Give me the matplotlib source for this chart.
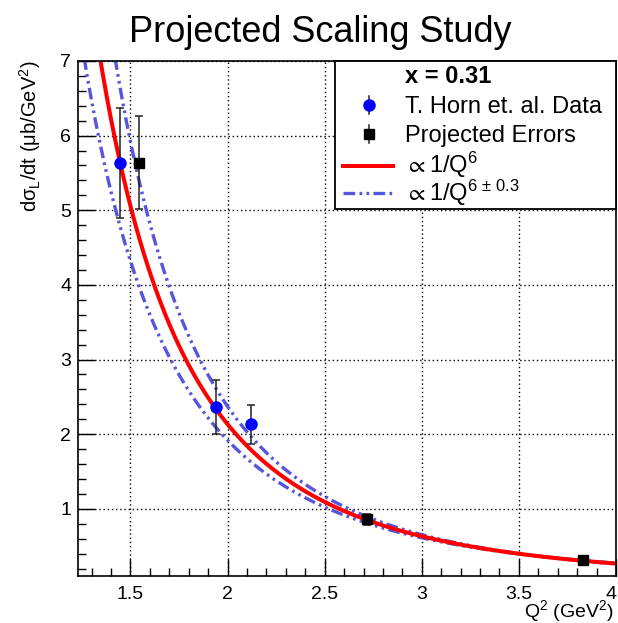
import numpy as np
import matplotlib
matplotlib.use("Agg")
import matplotlib.pyplot as plt
from matplotlib.lines import Line2D
from matplotlib.patches import Rectangle
from matplotlib.ticker import MultipleLocator, FormatStrFormatter

plt.rcParams['font.family'] = ['Liberation Sans', 'DejaVu Sans']
plt.rcParams['mathtext.fontset'] = 'custom'
plt.rcParams['mathtext.rm'] = 'Liberation Sans'
plt.rcParams['mathtext.it'] = 'Liberation Sans:italic'
plt.rcParams['mathtext.bf'] = 'Liberation Sans:bold'
plt.rcParams['mathtext.fallback'] = 'stixsans'

# data
horn_q2 = [1.445, 1.941, 2.12]
horn_y = [5.63, 2.36, 2.13]
horn_err = [0.74, 0.36, 0.26]

proj_q2 = [1.544, 2.718, 3.83]
proj_y = [5.64, 0.86, 0.315]
proj_err = [0.62, 0.07, 0.02]

xticks = [1.5, 2.0, 2.5, 3.0, 3.5, 4.0]

norm = 17.07      # dsigma/dt * (Q^2)^3
pivot = 3.6       # Q^2 where the +-0.3 curves meet
dexp = 0.18

q2 = np.linspace(1.2, 4.05, 400)
central = norm / q2**3
upper = norm / pivot**3 * (q2 / pivot)**(-(3 + dexp))
lower = norm / pivot**3 * (q2 / pivot)**(-(3 - dexp))

W, H = 618, 623
fig = plt.figure(figsize=(W / 100, H / 100), dpi=100)
ax = fig.add_axes([78 / W, 1 - 576 / H, (616 - 78) / W, (576 - 61) / H])


def fx(x):
    return x / W


def fy(y):
    return 1 - y / H


blue = '#5555dd'
dash = (0, (3.5, 1.3, 0.8, 1.3, 0.8, 1.3))
ax.plot(q2, upper, color=blue, lw=2.4, linestyle=dash)
ax.plot(q2, lower, color=blue, lw=2.4, linestyle=dash)
ax.plot(q2, central, color='red', lw=2.9)

ax.errorbar(horn_q2, horn_y, yerr=horn_err, fmt='o', color='blue', ms=8,
            ecolor='#222222', elinewidth=1.1, capsize=3, capthick=1.1, zorder=5)
ax.errorbar(proj_q2, proj_y, yerr=proj_err, fmt='s', color='black', ms=7.5,
            ecolor='#222222', elinewidth=1.1, capsize=3, capthick=1.1, zorder=5)

ax.set_xlim(1.23, 4.0)
ax.set_ylim(0.1, 7.0)
ax.set_xticks(xticks, ['%g' % t for t in xticks])
ax.xaxis.set_minor_locator(MultipleLocator(0.1))
ax.yaxis.set_major_locator(MultipleLocator(1))
ax.yaxis.set_minor_locator(MultipleLocator(0.2))
ax.yaxis.set_major_formatter(FormatStrFormatter('%g'))
ax.tick_params(which='both', direction='in', top=False, right=False,
               labelsize=14, width=1.0)
ax.tick_params(axis='x', which='major', length=12, pad=7)
ax.tick_params(axis='y', which='major', length=12, pad=5)
ax.tick_params(which='minor', length=6)
ax.grid(which='major', linestyle=(0, (1, 2)), color='black', lw=1.0)
for s in ax.spines.values():
    s.set_linewidth(1.2)
ax.get_xticklabels()[-1].set_ha('right')

ax.set_xlabel('Q$^{2}$ (GeV$^{2}$)', fontsize=14, ha='right', va='baseline')
ax.xaxis.set_label_coords(0.997, -(617 - 576) / 515)
ax.set_ylabel('dσ$_{\\rm L}$/dt (μb/GeV$^{2}$)', loc='top', fontsize=14.5,
              labelpad=12)

fig.text(fx(320), fy(42), 'Projected Scaling Study', fontsize=26,
         ha='center', va='baseline')

# legend box drawn by hand to match the row spacing
fig.patches.append(Rectangle((fx(335), fy(209)), fx(616) - fx(335),
                             fy(61) - fy(209), transform=fig.transFigure,
                             facecolor='white', edgecolor='black', lw=1.3,
                             zorder=10))
leg_fs = 17
rows = [
    ('x = 0.31', None, 83),
    ('T. Horn et. al. Data', 'horn', 113),
    ('Projected Errors', 'proj', 142),
    ('$\\propto$1/Q$^{6}$', 'central', 173),
    ('$\\propto$1/Q$^{6\\,\\pm\\,0.3}$', 'band', 201),
]
for label, kind, base in rows:
    weight = 'bold' if kind is None else 'normal'
    fig.text(fx(405), fy(base), label, fontsize=leg_fs, fontweight=weight,
             ha='left', va='baseline', zorder=11)
    yc = base - 8
    if kind == 'horn':
        fig.lines.append(Line2D([fx(369), fx(369)], [fy(yc - 9), fy(yc + 9)],
                                transform=fig.transFigure, color='#222222',
                                lw=1.1, zorder=11))
        fig.lines.append(Line2D([fx(369)], [fy(yc)], transform=fig.transFigure,
                                color='blue', marker='o', ms=8, zorder=12))
    elif kind == 'proj':
        fig.lines.append(Line2D([fx(369), fx(369)], [fy(yc - 9), fy(yc + 9)],
                                transform=fig.transFigure, color='#222222',
                                lw=1.1, zorder=11))
        fig.lines.append(Line2D([fx(369)], [fy(yc)], transform=fig.transFigure,
                                color='black', marker='s', ms=7.5, zorder=12))
    elif kind == 'central':
        fig.lines.append(Line2D([fx(343), fx(393)], [fy(yc + 1), fy(yc + 1)],
                                transform=fig.transFigure, color='red',
                                lw=2.9, zorder=11))
    elif kind == 'band':
        fig.lines.append(Line2D([fx(343), fx(393)], [fy(yc), fy(yc)],
                                transform=fig.transFigure, color=blue,
                                lw=2.4, linestyle=dash, zorder=11))

fig.savefig('out.png', dpi=100)
